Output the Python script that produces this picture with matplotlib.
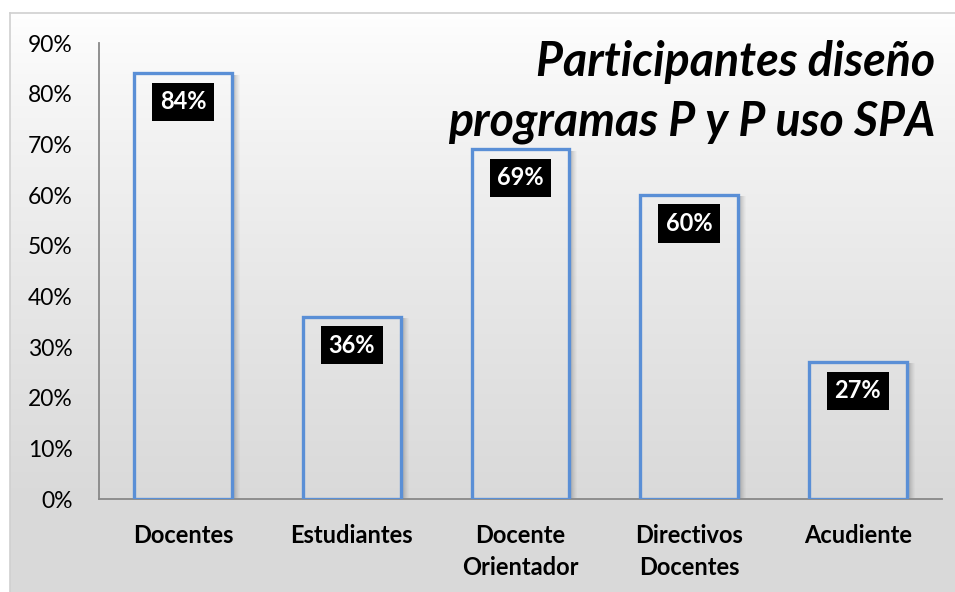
import numpy as np
import matplotlib
matplotlib.use("Agg")
import matplotlib.pyplot as plt
from matplotlib.ticker import FuncFormatter, MultipleLocator

categories = ["Docentes", "Estudiantes", "Docente\nOrientador", "Directivos\nDocentes", "Acudiente"]
values = [84, 36, 69, 60, 27]
labels = ["84%", "36%", "69%", "60%", "27%"]
title_lines = ["Participantes diseño", "programas P y P uso SPA"]

plt.rcParams['font.family'] = ['Lato', 'DejaVu Sans']

W, H = 955, 592
fig = plt.figure(figsize=(W / 100, H / 100), dpi=100)
fig.patch.set_facecolor('white')

# chart-area background with vertical gradient
bg = fig.add_axes([10 / W, 0, 1 - 10 / W, 1 - 13 / H], zorder=0)
t = np.linspace(0.0, 1.0, 256)
shade = 1.0 - 0.149 * np.clip(t / 0.85, 0, 1) ** 0.8
img = np.repeat(shade[:, None, None], 3, axis=2)
bg.imshow(img, aspect='auto', extent=[0, 1, 0, 1], origin='upper')
bg.set_xlim(0, 1)
bg.set_ylim(0, 1)
bg.set_xticks([])
bg.set_yticks([])
for side, sp in bg.spines.items():
    sp.set_color('#d0d0d0')
    sp.set_linewidth(1.2)
bg.spines['right'].set_visible(False)
bg.spines['bottom'].set_visible(False)

ax = fig.add_axes([99 / W, (H - 499) / H, (942 - 99) / W, (499 - 43) / H], zorder=1)
ax.patch.set_alpha(0)
x = np.arange(len(categories))
bw = 0.58
px = 1.0 / ((942 - 99) / len(categories))  # one pixel in x data units

# soft shadow on the right side of each bar
for k in range(7):
    a = 0.32 * (1 - k / 7) ** 1.3
    ax.bar(x + bw / 2 + (1 + k) * px, np.array(values) - 0.25, width=px * 1.05, bottom=0,
           align='edge', color='#404040', alpha=a, linewidth=0, zorder=2)

bars = ax.bar(x, values, width=bw, facecolor='none', edgecolor='#5a8fd6',
              linewidth=2.4, zorder=3)

for xi, v, lab in zip(x, values, labels):
    ax.annotate(lab, (xi, v), xytext=(0, -20.5), textcoords='offset points',
                ha='center', va='center', fontsize=17, fontweight='bold', color='white',
                bbox=dict(boxstyle='square,pad=0.32', fc='black', ec='none'), zorder=5)

ax.set_xlim(-0.5, len(categories) - 0.5)
ax.set_ylim(0, 90)
ax.yaxis.set_major_locator(MultipleLocator(10))
ax.yaxis.set_major_formatter(FuncFormatter(lambda v, p: f"{int(round(v))}%"))
ax.set_xticks(x)
ax.set_xticklabels(categories, fontsize=17, fontweight='bold', linespacing=1.45)
ax.tick_params(axis='x', length=0, pad=18)
ax.tick_params(axis='y', length=0, pad=19, labelsize=16.5)
for s in ['top', 'right']:
    ax.spines[s].set_visible(False)
ax.spines['left'].set_color('#888888')
ax.spines['bottom'].set_color('#888888')
ax.spines['left'].set_linewidth(1.3)
ax.spines['bottom'].set_linewidth(1.3)

fig.text(935 / W, 1 - 76 / H, title_lines[0], ha='right', va='baseline',
         fontsize=33.5, fontweight='bold', fontstyle='italic', color='black', zorder=6)
fig.text(935 / W, 1 - 136 / H, title_lines[1], ha='right', va='baseline',
         fontsize=33.5, fontweight='bold', fontstyle='italic', color='black', zorder=6)

fig.savefig('out.png', dpi=100, facecolor=fig.get_facecolor())
